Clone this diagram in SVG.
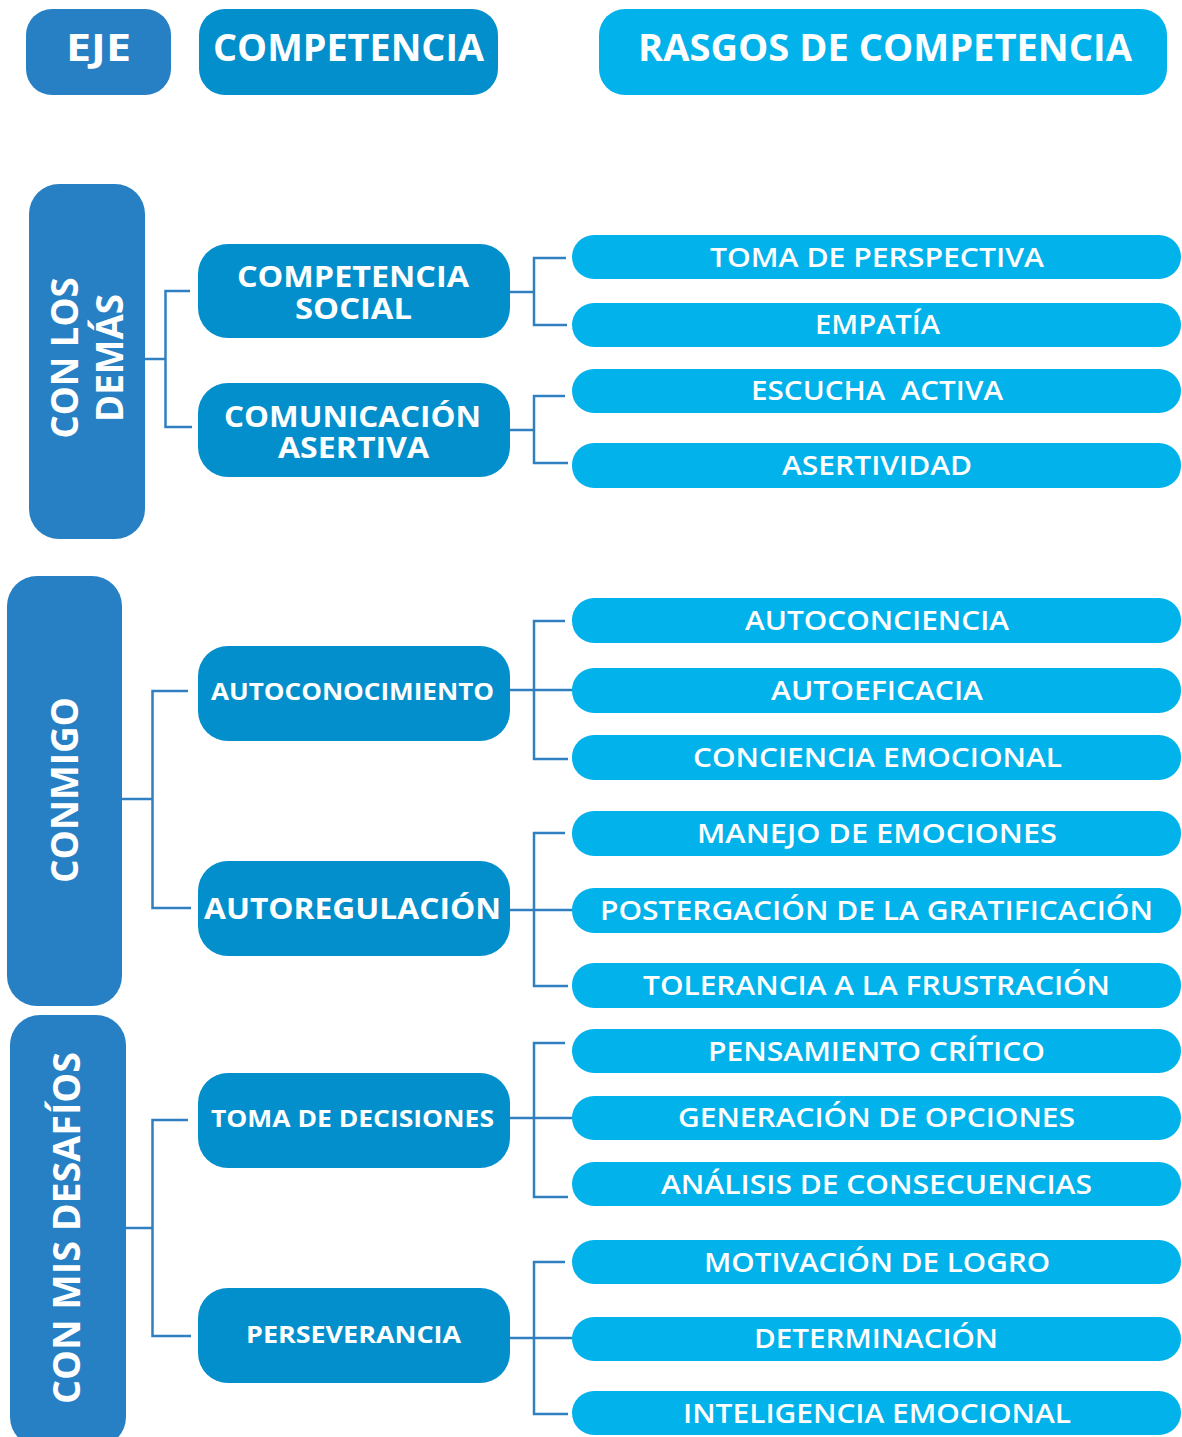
<svg xmlns="http://www.w3.org/2000/svg" width="1182" height="1437" viewBox="0 0 1182 1437">
<style>
.axis{fill:#2880C4}
.comp{fill:#028FCB}
.trait{fill:#02B2EB}
.t{fill:#fff;font-family:"Open Sans","Liberation Sans",sans-serif;text-anchor:middle}
.hd{font-size:37px;font-weight:700}
.ax{font-size:38px;font-weight:700}
.cp{font-size:29px;font-weight:700}
.cs{font-size:24px;font-weight:700}
.tr{font-size:27px;font-weight:600}
.conn{fill:none;stroke:#2F7FC1;stroke-width:2.5}
</style>
<rect width="1182" height="1437" fill="#fff"/>
<g id="connectors" class="conn">
<path d="M145,359 H165.5 M190,291 H165.5 V427 H192"/>
<path d="M122,799 H152.5 M188,691 H152.5 V908 H191"/>
<path d="M126,1228 H152.5 M188,1120 H152.5 V1336 H191"/>
<path d="M510,292 H534 M566,258 H534 V325 H567"/>
<path d="M510,430 H534 M565,396 H534 V463 H568"/>
<path d="M510,690 H573 M565,621 H534 V759 H568"/>
<path d="M510,910 H573 M565,833 H534 V986 H568"/>
<path d="M510,1118 H573 M565,1043 H534 V1197 H568"/>
<path d="M510,1338 H573 M565,1262 H534 V1414 H568"/>
</g>
<g id="h-eje"><rect class="axis" x="26" y="9" width="145" height="86" rx="26"/><text class="t hd" x="98.5" y="61" textLength="65" lengthAdjust="spacingAndGlyphs">EJE</text></g>
<g id="h-competencia"><rect class="comp" x="199" y="9" width="299" height="86" rx="26"/><text class="t hd" x="348.5" y="61" textLength="271" lengthAdjust="spacingAndGlyphs">COMPETENCIA</text></g>
<g id="h-rasgos"><rect class="trait" x="599" y="9" width="568" height="86" rx="26"/><text class="t hd" x="885" y="61" textLength="494" lengthAdjust="spacingAndGlyphs">RASGOS DE COMPETENCIA</text></g>

<g id="ax-demas"><rect class="axis" x="29" y="184" width="116" height="355" rx="30"/>
<text class="t ax" transform="translate(78,358) rotate(-90)"><tspan x="0" y="0" textLength="161" lengthAdjust="spacingAndGlyphs">CON LOS</tspan><tspan x="0" y="45" textLength="128" lengthAdjust="spacingAndGlyphs">DEMÁS</tspan></text></g>
<g id="ax-conmigo"><rect class="axis" x="7" y="576" width="115" height="430" rx="30"/>
<text class="t ax" transform="translate(78,790) rotate(-90)" textLength="186" lengthAdjust="spacingAndGlyphs">CONMIGO</text></g>
<g id="ax-desafios"><rect class="axis" x="10" y="1015" width="116" height="432" rx="30"/>
<text class="t ax" transform="translate(80,1228) rotate(-90)" textLength="352" lengthAdjust="spacingAndGlyphs">CON MIS DESAFÍOS</text></g>

<g id="c-social"><rect class="comp" x="198" y="244" width="312" height="94" rx="30"/>
<text class="t cp"><tspan x="353" y="287" textLength="232" lengthAdjust="spacingAndGlyphs">COMPETENCIA</tspan><tspan x="353.5" y="319" textLength="117" lengthAdjust="spacingAndGlyphs">SOCIAL</tspan></text></g>
<g id="c-comunicacion"><rect class="comp" x="198" y="383" width="312" height="94" rx="30"/>
<text class="t cp"><tspan x="352.5" y="427" textLength="257" lengthAdjust="spacingAndGlyphs">COMUNICACIÓN</tspan><tspan x="353.5" y="458" textLength="151" lengthAdjust="spacingAndGlyphs">ASERTIVA</tspan></text></g>
<g id="c-autocon"><rect class="comp" x="198" y="646" width="312" height="95" rx="30"/>
<text class="t cs" x="352.5" y="700" textLength="283" lengthAdjust="spacingAndGlyphs">AUTOCONOCIMIENTO</text></g>
<g id="c-autoreg"><rect class="comp" x="198" y="861" width="312" height="95" rx="30"/>
<text class="t cp" x="352.5" y="919" textLength="297" lengthAdjust="spacingAndGlyphs">AUTOREGULACIÓN</text></g>
<g id="c-toma"><rect class="comp" x="198" y="1073" width="312" height="95" rx="30"/>
<text class="t cs" x="352.5" y="1127" textLength="283" lengthAdjust="spacingAndGlyphs">TOMA DE DECISIONES</text></g>
<g id="c-persev"><rect class="comp" x="198" y="1288" width="312" height="95" rx="30"/>
<text class="t cs" x="353.5" y="1343" textLength="215" lengthAdjust="spacingAndGlyphs">PERSEVERANCIA</text></g>

<g id="r1"><rect class="trait" x="572" y="235" width="609" height="44" rx="22"/><text class="t tr" x="877" y="266.5" textLength="334" lengthAdjust="spacingAndGlyphs">TOMA DE PERSPECTIVA</text></g>
<g id="r2"><rect class="trait" x="572" y="303" width="609" height="44" rx="22"/><text class="t tr" x="877.5" y="334" textLength="125" lengthAdjust="spacingAndGlyphs">EMPATÍA</text></g>
<g id="r3"><rect class="trait" x="572" y="369" width="609" height="44" rx="22"/><text class="t tr" x="877" y="400" textLength="252" lengthAdjust="spacingAndGlyphs" xml:space="preserve">ESCUCHA  ACTIVA</text></g>
<g id="r4"><rect class="trait" x="572" y="443" width="609" height="45" rx="22"/><text class="t tr" x="877" y="475" textLength="190" lengthAdjust="spacingAndGlyphs">ASERTIVIDAD</text></g>
<g id="r5"><rect class="trait" x="572" y="598" width="609" height="45" rx="22"/><text class="t tr" x="877" y="630" textLength="264" lengthAdjust="spacingAndGlyphs">AUTOCONCIENCIA</text></g>
<g id="r6"><rect class="trait" x="572" y="668" width="609" height="45" rx="22"/><text class="t tr" x="877" y="700" textLength="212" lengthAdjust="spacingAndGlyphs">AUTOEFICACIA</text></g>
<g id="r7"><rect class="trait" x="572" y="735" width="609" height="45" rx="22"/><text class="t tr" x="877.5" y="767" textLength="369" lengthAdjust="spacingAndGlyphs">CONCIENCIA EMOCIONAL</text></g>
<g id="r8"><rect class="trait" x="572" y="811" width="609" height="45" rx="22"/><text class="t tr" x="877" y="843" textLength="360" lengthAdjust="spacingAndGlyphs">MANEJO DE EMOCIONES</text></g>
<g id="r9"><rect class="trait" x="572" y="888" width="609" height="45" rx="22"/><text class="t tr" x="876.5" y="920" textLength="553" lengthAdjust="spacingAndGlyphs">POSTERGACIÓN DE LA GRATIFICACIÓN</text></g>
<g id="r10"><rect class="trait" x="572" y="963" width="609" height="45" rx="22"/><text class="t tr" x="876.5" y="995" textLength="467" lengthAdjust="spacingAndGlyphs">TOLERANCIA A LA FRUSTRACIÓN</text></g>
<g id="r11"><rect class="trait" x="572" y="1029" width="609" height="44" rx="22"/><text class="t tr" x="876.5" y="1060.5" textLength="337" lengthAdjust="spacingAndGlyphs">PENSAMIENTO CRÍTICO</text></g>
<g id="r12"><rect class="trait" x="572" y="1096" width="609" height="44" rx="22"/><text class="t tr" x="876.5" y="1127" textLength="397" lengthAdjust="spacingAndGlyphs">GENERACIÓN DE OPCIONES</text></g>
<g id="r13"><rect class="trait" x="572" y="1162" width="609" height="44" rx="22"/><text class="t tr" x="876.5" y="1193.5" textLength="431" lengthAdjust="spacingAndGlyphs">ANÁLISIS DE CONSECUENCIAS</text></g>
<g id="r14"><rect class="trait" x="572" y="1240" width="609" height="44" rx="22"/><text class="t tr" x="877" y="1271.5" textLength="346" lengthAdjust="spacingAndGlyphs">MOTIVACIÓN DE LOGRO</text></g>
<g id="r15"><rect class="trait" x="572" y="1317" width="609" height="44" rx="22"/><text class="t tr" x="876" y="1348" textLength="244" lengthAdjust="spacingAndGlyphs">DETERMINACIÓN</text></g>
<g id="r16"><rect class="trait" x="572" y="1391" width="609" height="44" rx="22"/><text class="t tr" x="877" y="1422.5" textLength="388" lengthAdjust="spacingAndGlyphs">INTELIGENCIA EMOCIONAL</text></g>
</svg>
